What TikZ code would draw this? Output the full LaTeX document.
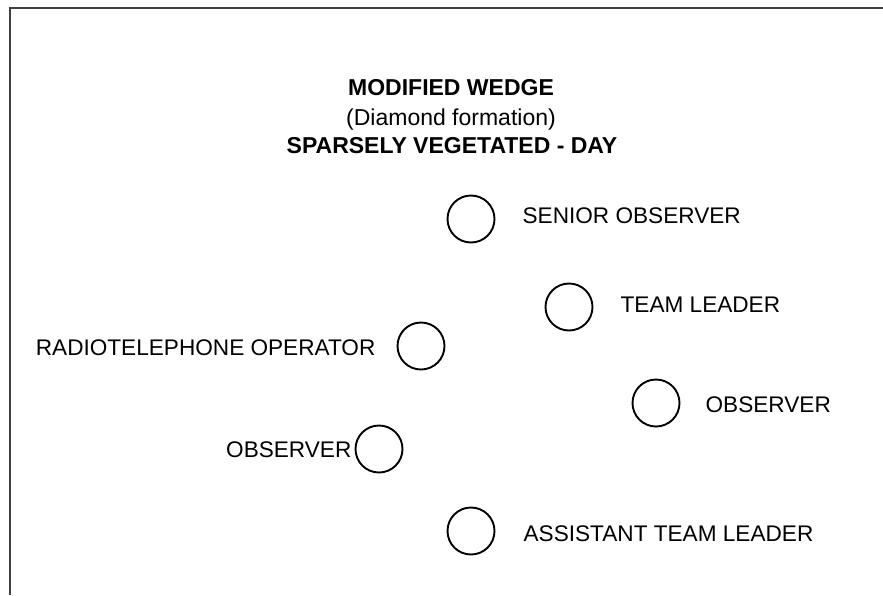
\documentclass[tikz,border=0pt]{standalone}
\usepackage{fontspec}
\setmainfont{Liberation Sans}
\usetikzlibrary{positioning}

\tikzset{
  man/.style={draw, circle, line width=1.9pt, minimum size=47pt, inner sep=0pt},
  role/.style={inner sep=0pt, font=\fontsize{22.6}{26}\selectfont},
  head/.style={inner sep=0pt, anchor=base, font=\fontsize{23}{27}\selectfont}
}

\begin{document}
\begin{tikzpicture}[x=1pt, y=-1pt]
        \useasboundingbox (0, 0) rectangle (883, 595);
        \draw[line width=2pt, black!75] (10, 595) -- (10, 8) -- (883, 8);

        % heading
        \node[head] (title) at (451, 95.5) {\bfseries MODIFIED WEDGE};
        \node[head] (sub) at (451, 125) {(Diamond formation)};
        \node[head] (terrain) at (452, 153) {\bfseries SPARSELY VEGETATED - DAY};

        % team members
        \node[man] (senior) at (471, 219) {};
        \node[man] (leader) at (569, 307) {};
        \node[man] (rto) at (421, 346) {};
        \node[man] (obsr) at (656, 403) {};
        \node[man] (obsl) at (379, 449) {};
        \node[man] (atl) at (471, 531) {};

        \node[role, right=27pt of senior, yshift=3pt] (seniortxt) {SENIOR OBSERVER};
        \node[role, right=27pt of leader, yshift=2pt] (leadertxt) {TEAM LEADER};
        \node[role, left=21pt of rto, yshift=-2pt] (rtotxt) {RADIOTELEPHONE OPERATOR};
        \node[role, right=25pt of obsr, yshift=-2pt] (obsrtxt) {OBSERVER};
        \node[role, left=3pt of obsl, yshift=-1pt] (obsltxt) {OBSERVER};
        \node[role, right=28pt of atl, yshift=-3pt] (atltxt) {ASSISTANT TEAM LEADER};
\end{tikzpicture}
\end{document}
